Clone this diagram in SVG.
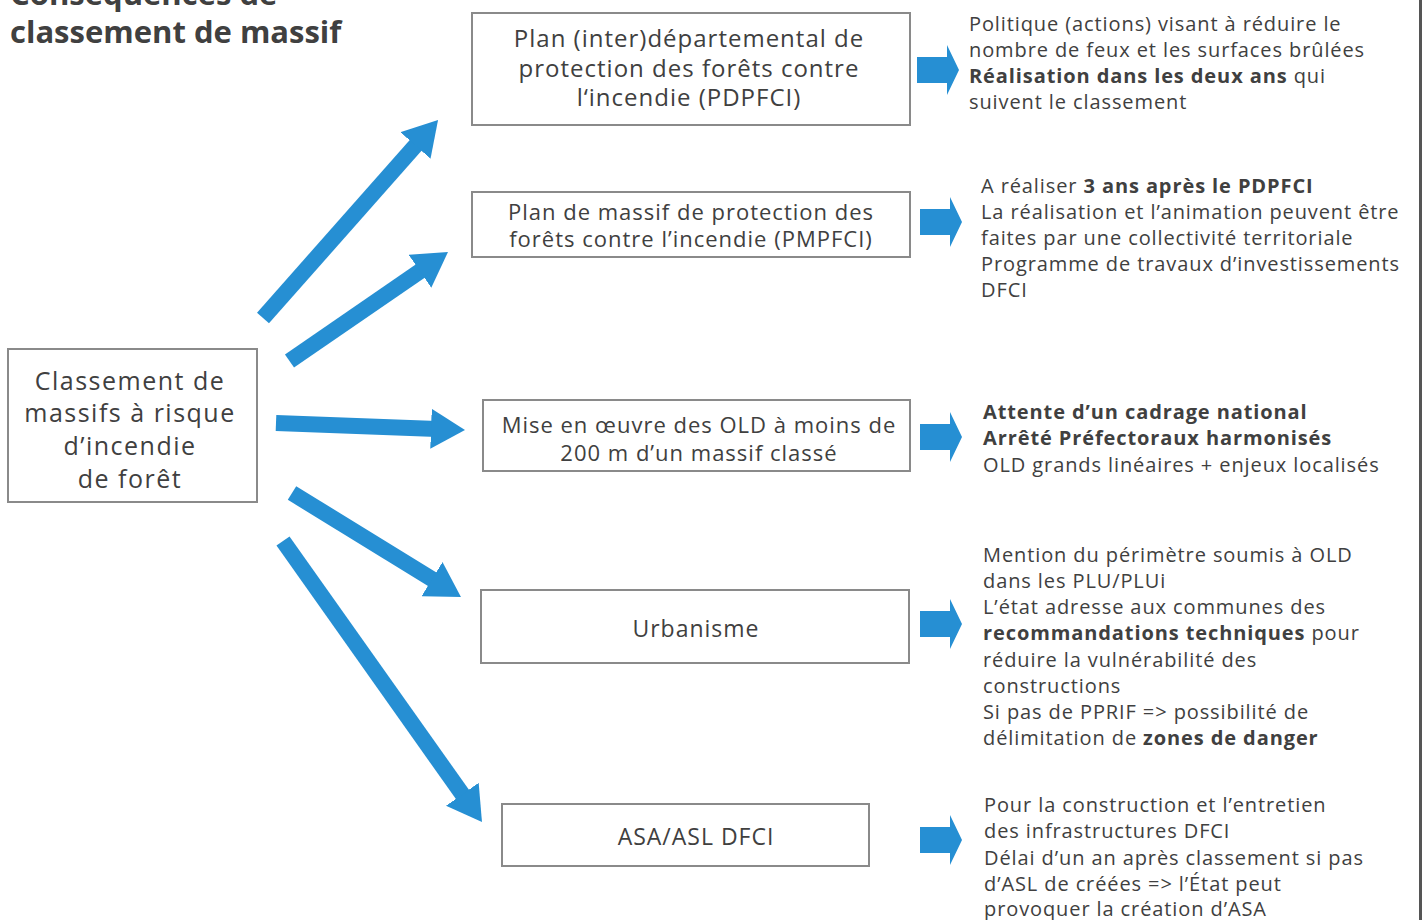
<svg xmlns="http://www.w3.org/2000/svg" xmlns:xlink="http://www.w3.org/1999/xlink" width="1424" height="920" viewBox="0 0 1424 920">
<style>
text{font-family:"Open Sans",Lato,"DejaVu Sans",sans-serif;fill:#404040}
.title{font-size:31px;font-weight:bold}
.box{fill:#ffffff;stroke:#8a8a8a;stroke-width:2}
.bt{font-size:24px;text-anchor:middle;letter-spacing:1px}
.rt{font-size:20px;letter-spacing:0.9px}
.b{font-weight:bold}
.conn line{stroke:#268fd3;stroke-width:16;stroke-linecap:butt}
.sa{fill:#268fd3}
</style>
<defs>
<marker id="ah" markerUnits="userSpaceOnUse" markerWidth="36" markerHeight="40" viewBox="0 0 36 40" refX="6" refY="20" orient="auto">
<path d="M0,0 L34,20 L0,40 Z" fill="#268fd3"/>
</marker>
<path id="sarrow" d="M0,-13 H30 V-25 L42,0 L30,25 V13 H0 Z"/>
</defs>
<rect width="1424" height="920" fill="#ffffff"/>
<rect x="1419" y="0" width="3" height="920" fill="#555555"/>
<g id="title">
<text class="title" x="10" y="5">Conséquences de</text>
<text class="title" x="10" y="43">classement de massif</text>
</g>
<g class="conn" id="connectors">
<line x1="263" y1="318" x2="419.5" y2="141" marker-end="url(#ah)"/>
<line x1="289.5" y1="361" x2="424.9" y2="267.9" marker-end="url(#ah)"/>
<line x1="276" y1="423" x2="437" y2="429" marker-end="url(#ah)"/>
<line x1="292" y1="493" x2="437.1" y2="582.3" marker-end="url(#ah)"/>
<line x1="283" y1="541" x2="465.8" y2="799.2" marker-end="url(#ah)"/>
<use href="#sarrow" class="sa" transform="translate(917,70)"/>
<use href="#sarrow" class="sa" transform="translate(920,222)"/>
<use href="#sarrow" class="sa" transform="translate(920,437)"/>
<use href="#sarrow" class="sa" transform="translate(920,624)"/>
<use href="#sarrow" class="sa" transform="translate(920,840)"/>
</g>
<g id="n-classement">
<rect class="box" x="8" y="349" width="249" height="153"/>
<text class="bt" x="130" y="390" style="font-size:25px;letter-spacing:1.5px">Classement de</text>
<text class="bt" x="130" y="422" style="font-size:25px;letter-spacing:1.5px">massifs à risque</text>
<text class="bt" x="130" y="455" style="font-size:25px;letter-spacing:1.5px">d’incendie</text>
<text class="bt" x="130" y="488" style="font-size:25px;letter-spacing:1.5px">de forêt</text>
</g>
<g id="n-pdpfci">
<rect class="box" x="472" y="13" width="438" height="112"/>
<text class="bt" x="689" y="47">Plan (inter)départemental de</text>
<text class="bt" x="689" y="77">protection des forêts contre</text>
<text class="bt" x="689" y="106">l‘incendie (PDPFCI)</text>
</g>
<g id="n-pmpfci">
<rect class="box" x="472" y="192" width="438" height="65"/>
<text class="bt" x="691" y="220" style="font-size:22px">Plan de massif de protection des</text>
<text class="bt" x="691" y="247" style="font-size:22px">forêts contre l’incendie (PMPFCI)</text>
</g>
<g id="n-old">
<rect class="box" x="483" y="400" width="427" height="71"/>
<text class="bt" x="699" y="433" style="font-size:22px">Mise en œuvre des OLD à moins de</text>
<text class="bt" x="699" y="461" style="font-size:22px">200 m d’un massif classé</text>
</g>
<g id="n-urbanisme">
<rect class="box" x="481" y="590" width="428" height="73"/>
<text class="bt" x="696" y="637" style="font-size:23px">Urbanisme</text>
</g>
<g id="n-asa">
<rect class="box" x="502" y="804" width="367" height="62"/>
<text class="bt" x="696" y="845" style="font-size:23px">ASA/ASL DFCI</text>
</g>
<g id="t-pdpfci">
<text class="rt" x="969" y="31">Politique (actions) visant à réduire le</text>
<text class="rt" x="969" y="57">nombre de feux et les surfaces brûlées</text>
<text class="rt" x="969" y="83"><tspan class="b">Réalisation dans les deux ans</tspan> qui</text>
<text class="rt" x="969" y="109">suivent le classement</text>
</g>
<g id="t-pmpfci">
<text class="rt" x="981" y="193">A réaliser <tspan class="b">3 ans après le PDPFCI</tspan></text>
<text class="rt" x="981" y="219">La réalisation et l’animation peuvent être</text>
<text class="rt" x="981" y="245">faites par une collectivité territoriale</text>
<text class="rt" x="981" y="271">Programme de travaux d’investissements</text>
<text class="rt" x="981" y="297">DFCI</text>
</g>
<g id="t-old">
<text class="rt b" x="983" y="419">Attente d’un cadrage national</text>
<text class="rt b" x="983" y="445">Arrêté Préfectoraux harmonisés</text>
<text class="rt" x="983" y="472">OLD grands linéaires + enjeux localisés</text>
</g>
<g id="t-urbanisme">
<text class="rt" x="983" y="562">Mention du périmètre soumis à OLD</text>
<text class="rt" x="983" y="588">dans les PLU/PLUi</text>
<text class="rt" x="983" y="614">L’état adresse aux communes des</text>
<text class="rt" x="983" y="640"><tspan class="b">recommandations techniques</tspan> pour</text>
<text class="rt" x="983" y="667">réduire la vulnérabilité des</text>
<text class="rt" x="983" y="693">constructions</text>
<text class="rt" x="983" y="719">Si pas de PPRIF =&gt; possibilité de</text>
<text class="rt" x="983" y="745">délimitation de <tspan class="b">zones de danger</tspan></text>
</g>
<g id="t-asa">
<text class="rt" x="984" y="812">Pour la construction et l’entretien</text>
<text class="rt" x="984" y="838">des infrastructures DFCI</text>
<text class="rt" x="984" y="865">Délai d’un an après classement si pas</text>
<text class="rt" x="984" y="891">d’ASL de créées =&gt; l’État peut</text>
<text class="rt" x="984" y="916">provoquer la création d’ASA</text>
</g>
</svg>
